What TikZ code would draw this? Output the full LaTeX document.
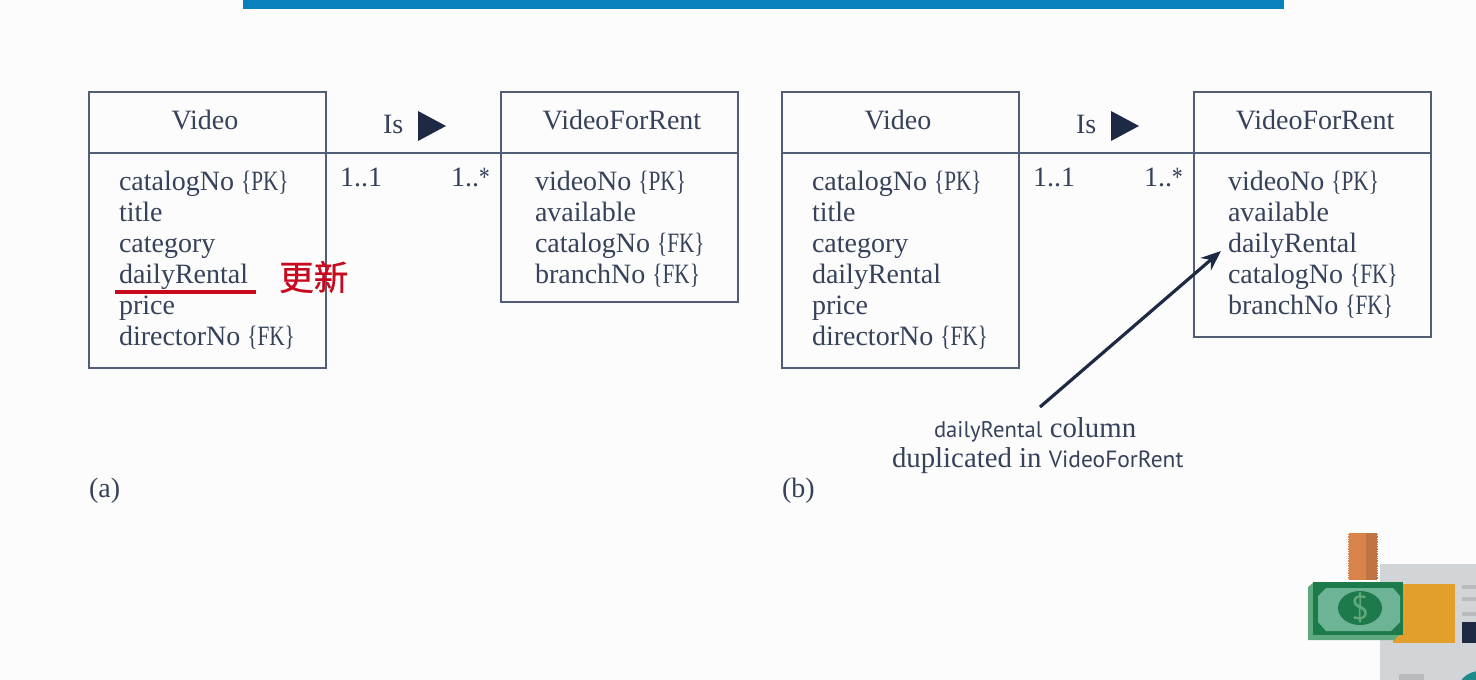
\documentclass[tikz,border=0pt]{standalone}
\usepackage{fontspec}
\setmainfont{Liberation Serif}
\newfontfamily\cjkfont[FakeBold=0.7]{Noto Sans CJK SC}
\newfontfamily\labelsans{PT Sans}
\newfontfamily\tagfont[FakeStretch=0.76]{Liberation Serif}
\usetikzlibrary{arrows.meta}
\definecolor{bgc}{HTML}{FCFCFC}
\definecolor{ink}{HTML}{36425A}
\definecolor{linec}{HTML}{515E75}
\definecolor{navy}{HTML}{1E2A44}
\definecolor{topbar}{HTML}{0A80BC}
\definecolor{redc}{HTML}{C80A1E}
\definecolor{panelc}{HTML}{D2D5D8}
\definecolor{barc}{HTML}{B9BCBF}
\definecolor{coinc}{HTML}{D9834A}
\definecolor{coind}{HTML}{BE7443}
\definecolor{orangec}{HTML}{E39F2B}
\definecolor{moneyd}{HTML}{1C7A4B}
\definecolor{moneyl}{HTML}{5FA97F}
\definecolor{moneyt}{HTML}{6DB396}
\definecolor{tealc}{HTML}{1F8A8A}
\newcommand{\bodyfont}{\fontsize{21}{24}\selectfont}
\newcommand{\notefont}{\fontsize{21.6}{24}\selectfont}
\newcommand{\kw}[1]{{\tagfont\{#1\}}}
\newcommand{\sanstxt}[2]{{\labelsans\fontsize{#1}{20}\selectfont #2}}
\newcommand{\manystar}{1..{\tagfont *}}
\tikzset{
  x=0.75pt,y=-0.75pt,
  every node/.style={inner sep=0pt,outer sep=0pt,text=ink,font=\bodyfont},
  boxhead/.style={draw=linec,line width=1.1pt,anchor=north west,minimum width=177.75pt,minimum height=45.75pt},
  boxbody/.style={draw=linec,line width=1.1pt,anchor=north west,minimum width=177.75pt},
  rowtext/.style={anchor=base west},
  relline/.style={draw=linec,line width=1.1pt},
  pointer/.style={draw=navy,line width=2.4pt,-{Stealth[length=15pt,width=12pt]}},
  dirtip/.style={fill=navy,draw=none}
}
\begin{document}
\begin{tikzpicture}
\useasboundingbox[fill=bgc] (0,0) rectangle (1476,680);
\fill[topbar] (243,0) rectangle (1284,9);

% ---------- (a)
\node[boxhead] (va) at (89,92) {};
\node[boxbody,minimum height=161.25pt] (vab) at (89,153) {};
\node[boxhead] (ra) at (501,92) {};
\node[boxbody,minimum height=111.75pt] (rab) at (501,153) {};
\draw[relline] (va.south east) -- (ra.south west);
\node (vat) at (205,120) {Video};
\node (rat) at (622,120) {VideoForRent};
\node[rowtext] (a1) at (119,191) {catalogNo \kw{PK}};
\node[rowtext] (a2) at (119,222) {title};
\node[rowtext] (a3) at (119,253) {category};
\node[rowtext] (a4) at (119,284) {dailyRental};
\node[rowtext] (a5) at (119,315) {price};
\node[rowtext] (a6) at (119,346) {directorNo \kw{FK}};
\node[rowtext] (b1) at (535,191) {videoNo \kw{PK}};
\node[rowtext] (b2) at (535,222) {available};
\node[rowtext] (b3) at (535,253) {catalogNo \kw{FK}};
\node[rowtext] (b4) at (535,284) {branchNo \kw{FK}};
\node[rowtext] (isa) at (383,134) {Is};
\fill[dirtip] (418,111) -- (446,126) -- (418,141) -- cycle;
\node[rowtext] (ma1) at (340,187) {1..1};
\node[rowtext] (ma2) at (451,187) {\manystar};
\fill[redc] (115,290) rectangle (256,294);
\node[anchor=west,text=redc,font=\cjkfont\fontsize{26}{28}\selectfont] (upd) at (279,277) {更新};
\node[rowtext] (la) at (89,497) {(a)};

% ---------- (b)
\node[boxhead] (vb) at (782,92) {};
\node[boxbody,minimum height=161.25pt] (vbb) at (782,153) {};
\node[boxhead] (rb) at (1194,92) {};
\node[boxbody,minimum height=138pt] (rbb) at (1194,153) {};
\draw[relline] (vb.south east) -- (rb.south west);
\node (vbt) at (898,120) {Video};
\node (rbt) at (1315,120) {VideoForRent};
\node[rowtext] (c1) at (812,191) {catalogNo \kw{PK}};
\node[rowtext] (c2) at (812,222) {title};
\node[rowtext] (c3) at (812,253) {category};
\node[rowtext] (c4) at (812,284) {dailyRental};
\node[rowtext] (c5) at (812,315) {price};
\node[rowtext] (c6) at (812,346) {directorNo \kw{FK}};
\node[rowtext] (d1) at (1228,191) {videoNo \kw{PK}};
\node[rowtext] (d2) at (1228,222) {available};
\node[rowtext] (d3) at (1228,253) {dailyRental};
\node[rowtext] (d4) at (1228,284) {catalogNo \kw{FK}};
\node[rowtext] (d5) at (1228,315) {branchNo \kw{FK}};
\node[rowtext] (isb) at (1076,134) {Is};
\fill[dirtip] (1111,111) -- (1139,126) -- (1111,141) -- cycle;
\node[rowtext] (mb1) at (1033,187) {1..1};
\node[rowtext] (mb2) at (1144,187) {\manystar};
\node[rowtext] (lb) at (782,497) {(b)};
\node[rowtext,font=\notefont] (n1) at (934,437) {\sanstxt{17}{dailyRental} column};
\node[rowtext,font=\notefont] (n2) at (892,467) {duplicated in \sanstxt{17.6}{VideoForRent}};
\coordinate (ptrstart) at (1040,407);
\coordinate (ptrend) at (1221,251);
\draw[pointer] (ptrstart) -- (ptrend);

% ---------- corner illustration
\begin{scope}
\clip (0,0) rectangle (1476,680);
\fill[panelc] (1380,564) rectangle (1476,680);
\fill[barc] (1462,585) rectangle (1476,589);
\fill[barc] (1462,597) rectangle (1476,601);
\fill[barc] (1462,612) rectangle (1476,616);
\fill[navy] (1462,622) rectangle (1476,643);
\fill[barc] (1399,674) rectangle (1424,680);
\fill[tealc] (1480,695) circle[radius=24];
\fill[coinc] (1348,533) rectangle (1378,580);
\fill[coind] (1366,533) rectangle (1378,580);
\draw[bgc,line width=0.8pt,densely dotted] (1348,533) -- (1348,580);
\draw[bgc,line width=0.8pt,densely dotted] (1378,533) -- (1378,580);
\fill[orangec] (1393,584) rectangle (1455,643);
\fill[moneyl] (1308,587) -- (1313,583) -- (1400,583) -- (1400,634) -- (1394,640) -- (1308,640) -- cycle;
\fill[moneyd] (1313,582) rectangle (1403,635);
\fill[moneyt] (1326,588) -- (1393,588) -- (1400,596) -- (1400,622) -- (1391,631) -- (1326,631) -- (1318,622) -- (1318,596) -- cycle;
\fill[moneyd] (1360,608) ellipse[x radius=22,y radius=17];
\node[text=moneyl,font=\labelsans\fontsize{25}{26}\selectfont] (dollar) at (1360,608) {\$};
\end{scope}
\end{tikzpicture}
\end{document}
